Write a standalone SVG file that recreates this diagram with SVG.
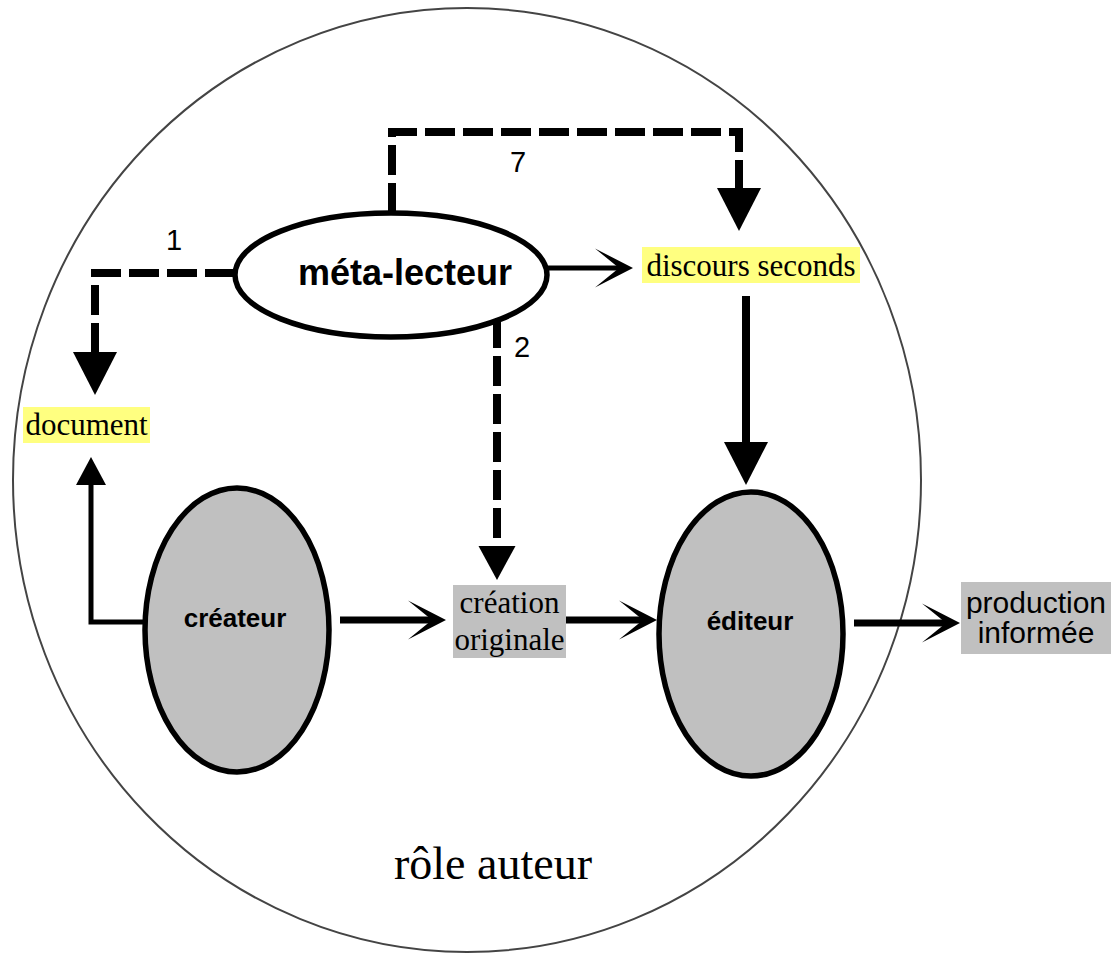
<svg xmlns="http://www.w3.org/2000/svg" width="1117" height="958" viewBox="0 0 1117 958">
  <style>
    .bg { fill: #ffffff; }
    .frame { fill: none; stroke: #444444; stroke-width: 2; }
    .node { stroke: #000000; stroke-width: 5.5; }
    .white { fill: #ffffff; }
    .grey { fill: #c0c0c0; }
    .hl { fill: #ffff80; }
    .box { fill: #c0c0c0; }
    .sansb { font-family: "Liberation Sans", Arial, sans-serif; font-weight: bold; fill: #000; }
    .sans { font-family: "Liberation Sans", Arial, sans-serif; fill: #000; }
    .serif { font-family: "Liberation Serif", "Times New Roman", serif; fill: #000; }
    .num { font-family: "Liberation Sans", Arial, sans-serif; font-size: 29px; fill: #000; text-anchor: middle; }
    .dash { fill: none; stroke: #000; stroke-width: 8; stroke-dasharray: 30 8; }
    .solid { fill: none; stroke: #000; }
  </style>
  <defs>
    <marker id="triBig" markerUnits="userSpaceOnUse" viewBox="0 -23 44 46" refX="0" refY="0" markerWidth="44" markerHeight="46" orient="auto">
      <path d="M0,-22 L43,0 L0,22 Z" fill="#000"/>
    </marker>
    <marker id="triMid" markerUnits="userSpaceOnUse" viewBox="0 -20 36 40" refX="0" refY="0" markerWidth="36" markerHeight="40" orient="auto">
      <path d="M0,-18.5 L34,0 L0,18.5 Z" fill="#000"/>
    </marker>
    <marker id="triSmall" markerUnits="userSpaceOnUse" viewBox="0 -16 30 32" refX="0" refY="0" markerWidth="30" markerHeight="32" orient="auto">
      <path d="M0,-15 L28,0 L0,15 Z" fill="#000"/>
    </marker>
    <marker id="stealth" markerUnits="userSpaceOnUse" viewBox="-40 -21 42 42" refX="-14" refY="0" markerWidth="42" markerHeight="42" orient="auto">
      <path d="M0,0 L-38,-19.5 L-14,0 L-38,19.5 Z" fill="#000"/>
    </marker>
  </defs>
  <rect class="bg" x="0" y="0" width="1117" height="958"/>

  <g id="role-auteur">
    <ellipse class="frame" cx="467" cy="480" rx="454" ry="472"/>
    <text class="serif" x="493" y="879" font-size="46" text-anchor="middle">rôle auteur</text>
  </g>

  <g id="connectors">
    <!-- 1: méta-lecteur -> document (dashed) -->
    <path class="dash" d="M235,273 H95 V352" marker-end="url(#triBig)"/>
    <text class="num" x="174" y="250">1</text>
    <!-- 7: méta-lecteur -> discours seconds (dashed) -->
    <path class="dash" d="M392,213 V132 H739 V188" marker-end="url(#triBig)"/>
    <text class="num" x="518" y="172">7</text>
    <!-- 2: méta-lecteur -> création originale (dashed) -->
    <path class="dash" d="M497,318 V546" marker-end="url(#triMid)"/>
    <text class="num" x="522" y="357">2</text>
    <!-- méta-lecteur -> discours seconds -->
    <path class="solid" stroke-width="5" d="M547,268 H619" marker-end="url(#stealth)"/>
    <!-- discours seconds -> éditeur -->
    <path class="solid" stroke-width="8" d="M746,296 V442" marker-end="url(#triBig)"/>
    <!-- créateur -> document -->
    <path class="solid" stroke-width="5" d="M146,622 H91 V485" marker-end="url(#triSmall)"/>
    <!-- créateur -> création originale -->
    <path class="solid" stroke-width="7" d="M340,620 H432" marker-end="url(#stealth)"/>
    <!-- création originale -> éditeur -->
    <path class="solid" stroke-width="7" d="M566,620 H643" marker-end="url(#stealth)"/>
    <!-- éditeur -> production informée -->
    <path class="solid" stroke-width="7" d="M854,623 H946" marker-end="url(#stealth)"/>
  </g>

  <g id="meta-lecteur">
    <ellipse class="node white" cx="391" cy="275" rx="156" ry="62"/>
    <text class="sansb" x="405" y="285" font-size="36" text-anchor="middle">méta-lecteur</text>
  </g>

  <g id="document">
    <rect class="hl" x="23" y="407" width="127" height="36"/>
    <text class="serif" x="86.5" y="435" font-size="31" text-anchor="middle">document</text>
  </g>

  <g id="discours-seconds">
    <rect class="hl" x="642" y="247" width="218" height="36"/>
    <text class="serif" x="751" y="276" font-size="31" text-anchor="middle">discours seconds</text>
  </g>

  <g id="createur">
    <ellipse class="node grey" cx="237" cy="630" rx="92" ry="142"/>
    <text class="sansb" x="235" y="627" font-size="26" text-anchor="middle">créateur</text>
  </g>

  <g id="creation-originale">
    <rect class="box" x="453" y="585" width="113" height="73"/>
    <text class="serif" x="509.5" y="613" font-size="31" text-anchor="middle">création</text>
    <text class="serif" x="509.5" y="650" font-size="31" text-anchor="middle">originale</text>
  </g>

  <g id="editeur">
    <ellipse class="node grey" cx="751" cy="634" rx="92" ry="142"/>
    <text class="sansb" x="750" y="630" font-size="26" text-anchor="middle">éditeur</text>
  </g>

  <g id="production-informee">
    <rect class="box" x="961" y="582" width="150" height="72"/>
    <text class="sans" x="1036" y="613" font-size="30" text-anchor="middle">production</text>
    <text class="sans" x="1036" y="643" font-size="30" text-anchor="middle">informée</text>
  </g>
</svg>
